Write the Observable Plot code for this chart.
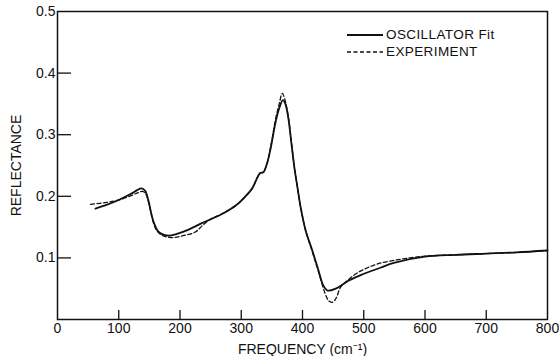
<!DOCTYPE html>
<html>
<head>
<meta charset="utf-8">
<script src="https://cdn.jsdelivr.net/npm/d3@7"></script>
<script src="https://cdn.jsdelivr.net/npm/@observablehq/plot@0.6"></script>
<style>
  html, body { margin: 0; padding: 0; background: #fff; }
  #wrap { position: relative; width: 559px; height: 356px; font-family: "Liberation Sans", Arial, sans-serif; }
  #legend { position: absolute; left: 347px; top: 26px; font-size: 13.5px; color: #111; letter-spacing: 0.4px; line-height: 17px; }
  #legend div { display: flex; align-items: center; }
  #legend svg { margin-right: 3px; }
</style>
</head>
<body>
<div id="wrap">
  <div id="chart"></div>
  <div id="legend">
    <div><svg width="36" height="10"><line x1="0" y1="5" x2="36" y2="5" stroke="#111" stroke-width="1.8"/></svg>OSCILLATOR Fit</div>
    <div><svg width="36" height="10"><line x1="0" y1="5" x2="36" y2="5" stroke="#111" stroke-width="1.3" stroke-dasharray="4,2.5"/></svg>EXPERIMENT</div>
  </div>
</div>
<script>
// Oscillator fit (solid)
const fitFreq = [62, 80, 100, 120, 130, 137, 143, 148, 152, 157, 163, 170, 181, 195, 214, 235, 253, 270, 291, 305, 318, 326, 331, 336, 342, 348, 356, 362, 368, 372, 377, 382, 387, 392, 397, 405, 416, 426, 434, 441, 454, 475, 495, 527, 549, 600, 650, 700, 750, 800];
const fitR    = [0.180, 0.186, 0.194, 0.204, 0.210, 0.213, 0.209, 0.195, 0.177, 0.158, 0.145, 0.139, 0.136, 0.139, 0.146, 0.156, 0.164, 0.172, 0.185, 0.198, 0.213, 0.230, 0.238, 0.239, 0.253, 0.278, 0.320, 0.343, 0.356, 0.350, 0.326, 0.285, 0.245, 0.213, 0.182, 0.145, 0.112, 0.080, 0.055, 0.047, 0.050, 0.063, 0.072, 0.084, 0.092, 0.102, 0.105, 0.107, 0.109, 0.112];

// Experiment (dashed)
const expFreq = [54, 80, 100, 120, 132, 139, 144, 148, 152, 157, 163, 172, 188, 205, 225, 237, 250, 270, 291, 305, 318, 326, 331, 336, 342, 348, 356, 362, 367, 371, 377, 382, 387, 392, 397, 405, 416, 426, 437, 443, 449, 455, 462, 473, 490, 506, 525, 549, 575, 600, 650, 700, 750, 800];
const expR    = [0.187, 0.190, 0.194, 0.201, 0.206, 0.208, 0.204, 0.193, 0.176, 0.156, 0.143, 0.136, 0.133, 0.136, 0.142, 0.153, 0.163, 0.172, 0.185, 0.198, 0.213, 0.230, 0.238, 0.239, 0.253, 0.280, 0.325, 0.350, 0.367, 0.358, 0.328, 0.287, 0.246, 0.213, 0.182, 0.145, 0.110, 0.078, 0.042, 0.030, 0.028, 0.035, 0.052, 0.063, 0.076, 0.084, 0.091, 0.096, 0.100, 0.103, 0.105, 0.107, 0.109, 0.112];

const xTickLabels = [0, 100, 200, 300, 400, 500, 600, 700, 800];
const xTickMarks  = [100, 200, 300, 400, 500, 600, 700];
const yTickLabels = [0.1, 0.2, 0.3, 0.4, 0.5];
const yTickMarks  = [0.1, 0.2, 0.3, 0.4];

const fit = fitFreq.map((f, i) => ({f, r: fitR[i]}));
const exp = expFreq.map((f, i) => ({f, r: expR[i]}));

const chart = Plot.plot({
  width: 559,
  height: 356,
  marginLeft: 57,
  marginRight: 12,
  marginTop: 11,
  marginBottom: 37,
  x: {domain: [0, 800]},
  y: {domain: [0, 0.5]},
  style: {fontFamily: "Liberation Sans, Arial, sans-serif", fontSize: "13.5px", color: "#111", background: "#fff"},
  marks: [
    Plot.frame({strokeWidth: 1.5, stroke: "#111"}),
    Plot.axisX(xTickMarks, {tickSize: -9, fill: "none", label: null, strokeWidth: 1.3}),
    Plot.axisX(xTickLabels, {tickSize: 0, tickPadding: 4, fontSize: 14, label: "FREQUENCY (cm\u207B\u00B9)", labelAnchor: "center", labelArrow: "none", labelOffset: 34}),
    Plot.axisY(yTickMarks, {tickSize: -14, fill: "none", label: null, strokeWidth: 1.3}),
    Plot.axisY(yTickLabels, {tickSize: 0, tickPadding: 2, fontSize: 14, tickFormat: d3.format(".1f"), label: "REFLECTANCE", labelAnchor: "center", labelArrow: "none", labelOffset: 46}),
    Plot.line(exp, {x: "f", y: "r", curve: "catmull-rom", stroke: "#111", strokeWidth: 1.3, strokeDasharray: "4,2.5"}),
    Plot.line(fit, {x: "f", y: "r", curve: "catmull-rom", stroke: "#111", strokeWidth: 1.8})
  ]
});
document.getElementById("chart").appendChild(chart);
</script>
</body>
</html>
